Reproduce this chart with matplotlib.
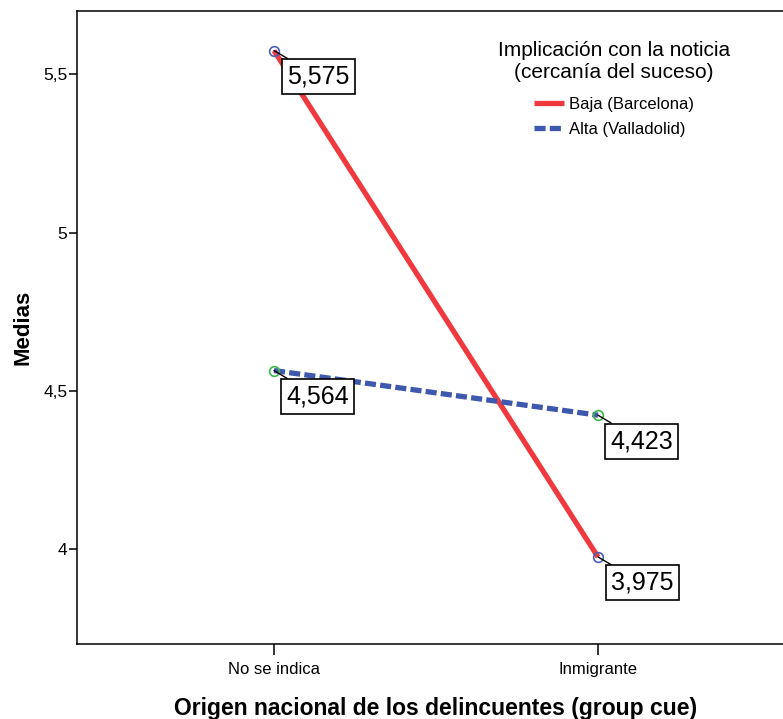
import matplotlib.pyplot as plt
import numpy as np

plt.rcParams['font.family'] = ['Liberation Sans', 'DejaVu Sans']

categorias = ['No se indica', 'Inmigrante']
baja_barcelona = [5.575, 3.975]
alta_valladolid = [4.564, 4.423]
etiquetas_baja = ['5,575', '3,975']
etiquetas_alta = ['4,564', '4,423']
yticks = [4.0, 4.5, 5.0, 5.5]
yticklabels = ['4', '4,5', '5', '5,5']

rojo = '#f0393f'
azul = '#3d58ad'

fig = plt.figure(figsize=(7.83, 7.19), dpi=100)
ax = fig.add_axes([77/783, 1-644/719, 718/783, 633/719])

x = np.arange(len(categorias)) + 1

ax.plot(x, baja_barcelona, color=rojo, lw=3.8, solid_capstyle='butt',
        label='Baja (Barcelona)', zorder=2)
ax.plot(x, alta_valladolid, color=azul, lw=3.8, linestyle=(0, (2.1, 0.8)),
        label='Alta (Valladolid)', zorder=2)
ax.plot(x, baja_barcelona, 'o', ms=7, mfc='none', mec='#4a5fb5', mew=1.2, zorder=3)
ax.plot(x, alta_valladolid, 'o', ms=7, mfc='none', mec='#3cb54a', mew=1.2, zorder=3)

caja = dict(boxstyle='square,pad=0.22', fc='white', ec='black', lw=1.2)
for xi, yi, lab in zip(x, baja_barcelona, etiquetas_baja):
    ax.annotate(lab, (xi, yi), xytext=(13, -14), textcoords='offset pixels',
                ha='left', va='top', fontsize=18, bbox=caja,
                arrowprops=dict(arrowstyle='-', color='black', lw=1, shrinkA=0, shrinkB=0),
                zorder=4)
for xi, yi, lab in zip(x, alta_valladolid, etiquetas_alta):
    ax.annotate(lab, (xi, yi), xytext=(12, -14), textcoords='offset pixels',
                ha='left', va='top', fontsize=18, bbox=caja,
                arrowprops=dict(arrowstyle='-', color='black', lw=1, shrinkA=0, shrinkB=0),
                zorder=4)

ax.set_xlim(1 - 197/324, 2 + 197/324)
ax.set_ylim(3.70, 5.70)
ax.set_xticks(x)
ax.set_xticklabels(categorias, fontsize=12)
ax.set_yticks(yticks)
ax.set_yticklabels(yticklabels, fontsize=12.5)
ax.tick_params(axis='y', direction='out', length=6, width=1.1, pad=1)
ax.tick_params(axis='x', direction='out', length=8, width=1.1, pad=5)

for s in ['top', 'left', 'bottom']:
    ax.spines[s].set_linewidth(1.1)
ax.spines['right'].set_visible(False)

ax.set_ylabel('Medias', fontsize=16, fontweight='bold', labelpad=7)
ax.set_xlabel('Origen nacional de los delincuentes (group cue)', fontsize=16.5,
              fontweight='bold', labelpad=14)

leg = ax.legend(loc='upper center', bbox_to_anchor=(0.748, 0.976), frameon=False,
                title='Implicación con la noticia\n(cercanía del suceso)',
                title_fontsize=15, fontsize=12, alignment='center',
                handlelength=1.8, handletextpad=0.3, labelspacing=0.6)
leg.get_title().set_linespacing(1.2)
leg.get_title().set_multialignment('center')
leg._legend_box.sep = 10.5

fig.savefig('out.png', dpi=100)
